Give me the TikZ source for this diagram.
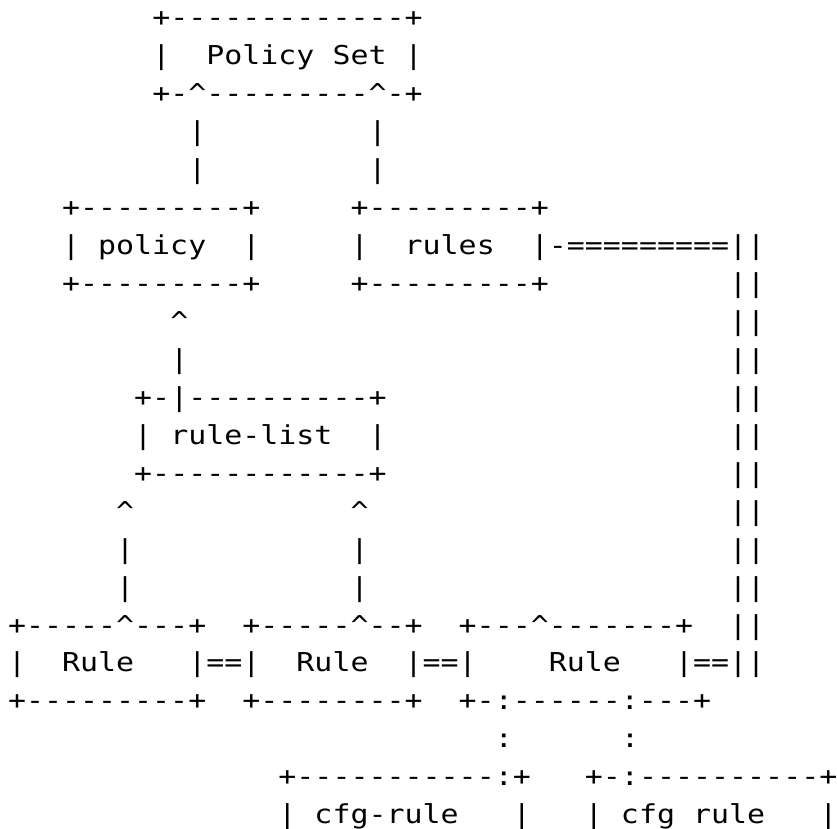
\documentclass[tikz,border=0pt]{standalone}
\usepackage{fontspec}
\newfontfamily\asciifont{DejaVu Sans Mono}[FakeStretch=1.15]
\newlength\cellw
\setlength\cellw{9.015pt}
\newcommand\asciicaret{\textasciicircum}
\makeatletter
\def\asciidot{.}
\newcommand\asciirow[1]{\@tfor\asciich:=#1\do{\makebox[\cellw][c]{\ifx\asciich\asciidot\else\asciich\fi}}}
\makeatother
\tikzset{
  asciirowstyle/.style={anchor=base west, inner sep=0pt, outer sep=0pt,
    font=\asciifont\fontsize{13pt}{13pt}\selectfont}
}
\begin{document}
\begin{tikzpicture}
\useasboundingbox (0pt,0pt) rectangle (418.5pt,-414.5pt);
\node[asciirowstyle] (r1)  at (4pt,{-13.5pt-0*18.97pt})  {\asciirow{........+-------------+}};
\node[asciirowstyle] (r2)  at (4pt,{-13.5pt-1*18.97pt})  {\asciirow{........|..Policy.Set.|}};
\node[asciirowstyle] (r3)  at (4pt,{-13.5pt-2*18.97pt})  {\asciirow{........+-\asciicaret---------\asciicaret-+}};
\node[asciirowstyle] (r4)  at (4pt,{-13.5pt-3*18.97pt})  {\asciirow{..........|.........|}};
\node[asciirowstyle] (r5)  at (4pt,{-13.5pt-4*18.97pt})  {\asciirow{..........|.........|}};
\node[asciirowstyle] (r6)  at (4pt,{-13.5pt-5*18.97pt})  {\asciirow{...+---------+.....+---------+}};
\node[asciirowstyle] (r7)  at (4pt,{-13.5pt-6*18.97pt})  {\asciirow{...|.policy..|.....|..rules..|-=========||}};
\node[asciirowstyle] (r8)  at (4pt,{-13.5pt-7*18.97pt})  {\asciirow{...+---------+.....+---------+..........||}};
\node[asciirowstyle] (r9)  at (4pt,{-13.5pt-8*18.97pt})  {\asciirow{.........\asciicaret..............................||}};
\node[asciirowstyle] (r10) at (4pt,{-13.5pt-9*18.97pt})  {\asciirow{.........|..............................||}};
\node[asciirowstyle] (r11) at (4pt,{-13.5pt-10*18.97pt}) {\asciirow{.......+-|----------+...................||}};
\node[asciirowstyle] (r12) at (4pt,{-13.5pt-11*18.97pt}) {\asciirow{.......|.rule-list..|...................||}};
\node[asciirowstyle] (r13) at (4pt,{-13.5pt-12*18.97pt}) {\asciirow{.......+------------+...................||}};
\node[asciirowstyle] (r14) at (4pt,{-13.5pt-13*18.97pt}) {\asciirow{......\asciicaret............\asciicaret....................||}};
\node[asciirowstyle] (r15) at (4pt,{-13.5pt-14*18.97pt}) {\asciirow{......|............|....................||}};
\node[asciirowstyle] (r16) at (4pt,{-13.5pt-15*18.97pt}) {\asciirow{......|............|....................||}};
\node[asciirowstyle] (r17) at (4pt,{-13.5pt-16*18.97pt}) {\asciirow{+-----\asciicaret---+..+-----\asciicaret--+..+---\asciicaret-------+..||}};
\node[asciirowstyle] (r18) at (4pt,{-13.5pt-17*18.97pt}) {\asciirow{|..Rule...|==|..Rule..|==|....Rule...|==||}};
\node[asciirowstyle] (r19) at (4pt,{-13.5pt-18*18.97pt}) {\asciirow{+---------+..+--------+..+-:------:---+}};
\node[asciirowstyle] (r20) at (4pt,{-13.5pt-19*18.97pt}) {\asciirow{...........................:......:}};
\node[asciirowstyle] (r21) at (4pt,{-13.5pt-20*18.97pt}) {\asciirow{...............+-----------:+...+-:----------+}};
\node[asciirowstyle] (r22) at (4pt,{-13.5pt-21*18.97pt}) {\asciirow{...............|.cfg-rule...|...|.cfg.rule...|}};
\end{tikzpicture}
\end{document}
